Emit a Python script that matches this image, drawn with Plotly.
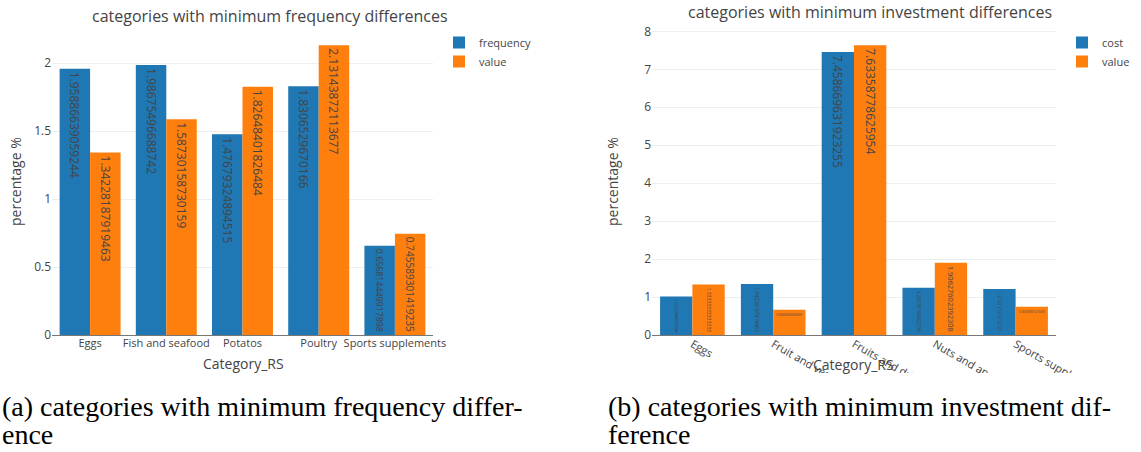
import plotly.graph_objects as go

# ---- data -------------------------------------------------------------
freq_categories = ["Eggs", "Fish and seafood", "Potatos", "Poultry", "Sports supplements"]
freq_frequency = [1.95886639059244, 1.98675496688742, 1.47679324894515, 1.8306529670166, 0.656814449917898]
freq_value = [1.34228187919463, 1.58730158730159, 1.82648401826484, 2.13143872113677, 0.745589301419235]

inv_categories = ["Eggs", "Fruit and vegetables", "Fruits and dried fruits", "Nuts and appetizers", "Sports supplements"]
inv_cost = [1.01522842639594, 1.34228187919463, 7.458669631923255, 1.24378109452736, 1.21212121212121]
inv_value = [1.33333333333333, 0.666666666666667, 7.63358778625954, 1.90627602392308, 0.745589301419235]

caption_a = ["(a) categories with minimum frequency differ-", "ence"]
caption_b = ["(b) categories with minimum investment dif-", "ference"]

BLUE = "#1f77b4"
ORANGE = "#ff7f0e"
TEXT = "#444"
FONT = "Open Sans, verdana, arial, sans-serif"
W, H = 1141, 452


def px_x(p):
    return p / W


def px_y(p):
    return 1 - p / H


def bar(x, y, name, color, xa, ya, legend):
    return go.Bar(
        x=x, y=y, name=name, text=[str(v) for v in y],
        textposition="auto",
        insidetextfont=dict(color=TEXT, family=FONT),
        outsidetextfont=dict(color=TEXT, family=FONT),
        marker=dict(color=color, line=dict(width=0)),
        xaxis=xa, yaxis=ya, legend=legend,
    )


fig = go.Figure()
fig.add_trace(bar(freq_categories, freq_frequency, "frequency", BLUE, "x", "y", "legend"))
fig.add_trace(bar(freq_categories, freq_value, "value", ORANGE, "x", "y", "legend"))
fig.add_trace(bar(inv_categories, inv_cost, "cost", BLUE, "x2", "y2", "legend2"))
fig.add_trace(bar(inv_categories, inv_value, "value", ORANGE, "x2", "y2", "legend2"))

ydom = [px_y(335), px_y(30)]
yaxis_common = dict(
    showgrid=True, gridcolor="#eee", zeroline=True, zerolinecolor="#777",
    zerolinewidth=1, showline=False, ticks="", automargin=False,
    tickfont=dict(size=12, family=FONT, color=TEXT),
)
xaxis_common = dict(
    showgrid=False, zeroline=False, ticks="", automargin=False,
    tickfont=dict(size=11, family=FONT, color=TEXT),
)

fig.update_layout(
    width=W, height=H,
    margin=dict(l=0, r=0, t=0, b=0, autoexpand=False),
    paper_bgcolor="white", plot_bgcolor="white",
    font=dict(family=FONT, color=TEXT, size=12),
    barmode="group", bargap=0.2,
    showlegend=True,
    xaxis=dict(domain=[px_x(52), px_x(433)], anchor="y", tickangle=0, **xaxis_common),
    yaxis=dict(domain=ydom, anchor="x", **yaxis_common),
    xaxis2=dict(domain=[px_x(652), px_x(1056)], anchor="y2", tickangle=30, **xaxis_common),
    yaxis2=dict(domain=ydom, anchor="x2", **yaxis_common),
    legend=dict(x=px_x(439), y=px_y(28), xanchor="left", yanchor="top",
                font=dict(size=11, color=TEXT), bgcolor="rgba(0,0,0,0)"),
    legend2=dict(x=px_x(1062), y=px_y(28), xanchor="left", yanchor="top",
                 font=dict(size=11, color=TEXT), bgcolor="rgba(0,0,0,0)"),
)


def label(text, x, y, size, angle=0, family=FONT, color=TEXT, xanchor="center"):
    return dict(text=text, x=px_x(x), y=px_y(y), xref="paper", yref="paper",
                showarrow=False, xanchor=xanchor, yanchor="middle", textangle=angle,
                font=dict(size=size, family=family, color=color))


annotations = [
    label("categories with minimum frequency differences", 270, 16, 16),
    label("categories with minimum investment differences", 870, 12, 16),
    label("Category_RS", 243, 363, 14),
    label("Category_RS", 853, 364, 14),
    label("percentage %", 15, 182, 14, angle=-90),
    label("percentage %", 612, 182, 14, angle=-90),
]
serif_family = "Liberation Serif, DejaVu Serif, serif"
for lines, x0 in ((caption_a, 0), (caption_b, 606)):
    for i, line in enumerate(lines):
        annotations.append(label(line, x0, 406 + 28 * i, 28, family=serif_family,
                                 color="black", xanchor="left"))

# white band under the right panel hides the overflowing rotated tick labels
shapes = [dict(type="rect", xref="paper", yref="paper", x0=px_x(560), x1=1,
               y0=px_y(H), y1=px_y(373), fillcolor="white", line=dict(width=0),
               layer="above")]
fig.update_layout(annotations=annotations, shapes=shapes)

fig.write_html("out.html")
